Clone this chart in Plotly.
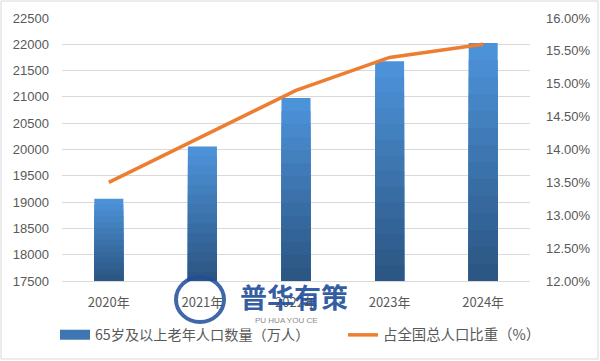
import plotly.graph_objects as go

years = ["2020年", "2021年", "2022年", "2023年", "2024年"]
elderly_pop = [19064, 20056, 20978, 21676, 22023]      # 万人
share_pct = [13.50, 14.20, 14.90, 15.40, 15.60]         # %

left_range = [17500, 22500]
right_range = [12.0, 16.0]
left_ticks = [17500, 18000, 18500, 19000, 19500, 20000, 20500, 21000, 21500, 22000, 22500]
right_ticks = [12.0, 12.5, 13.0, 13.5, 14.0, 14.5, 15.0, 15.5, 16.0]
right_labels = ["%.2f%%" % v for v in right_ticks]
left_labels = [str(v) for v in left_ticks]

bar_name = "65岁及以上老年人口数量（万人）"
line_name = "占全国总人口比重（%）"

FONT = "Noto Sans CJK SC, Liberation Sans, sans-serif"
NUMFONT = "Liberation Sans, Arial, sans-serif"
GREY = "#595959"

top_rgb = (76, 146, 216)
bot_rgb = (44, 86, 132)
N = 14

W, H = 600, 361
ML, MR, MT, MB = 62, 70, 18, 80
PW, PH = W - ML - MR, H - MT - MB


def px(x):
    return (x - ML) / PW


def py(y):
    return (H - MB - y) / PH


fig = go.Figure()
base = left_range[0]
for k in range(N):
    f = 1 - k / N
    t = k / (N - 1)
    c = tuple(round(top_rgb[i] + (bot_rgb[i] - top_rgb[i]) * t) for i in range(3))
    fig.add_trace(go.Bar(
        x=years,
        y=[base + (v - base) * f for v in elderly_pop],
        name=bar_name,
        marker=dict(color="rgb(%d,%d,%d)" % c, line=dict(width=0)),
        width=0.31,
        showlegend=False,
        hoverinfo="skip" if k else None,
    ))

# legend-only swatch for the bar series (wide rectangle like the original)
fig.add_trace(go.Scatter(
    x=[None], y=[None], name=bar_name, mode="lines",
    line=dict(color="rgb(62,118,178)", width=10), legend="legend",
))

fig.add_trace(go.Scatter(
    x=years, y=share_pct, name=line_name, mode="lines",
    line=dict(color="#ED7D31", width=3.5), yaxis="y2", legend="legend2",
))

fig.update_layout(
    width=W, height=H,
    margin=dict(l=ML, r=MR, t=MT, b=MB, autoexpand=False),
    paper_bgcolor="white", plot_bgcolor="white",
    barmode="overlay",
    font=dict(family=FONT, size=12, color=GREY),
    xaxis=dict(showgrid=False, showline=True, linecolor="#d9d9d9", ticks="",
               tickfont=dict(family=FONT, size=13, color=GREY), ticklabelstandoff=9,
               automargin=False),
    yaxis=dict(range=left_range, tickvals=left_ticks, ticktext=left_labels, showgrid=True,
               gridcolor="#d9d9d9", gridwidth=1, zeroline=False, automargin=False,
               tickfont=dict(family=NUMFONT, size=13, color=GREY), ticklabelstandoff=12),
    yaxis2=dict(range=right_range, tickvals=right_ticks, ticktext=right_labels,
                overlaying="y", side="right", showgrid=False, zeroline=False,
                automargin=False,
                tickfont=dict(family=NUMFONT, size=13, color=GREY), ticklabelstandoff=15),
    legend=dict(orientation="h", x=px(55), xanchor="left", y=py(335), yanchor="middle",
                font=dict(family=FONT, size=14.2, color=GREY), bgcolor="rgba(0,0,0,0)"),
    legend2=dict(orientation="h", x=px(343), xanchor="left", y=py(335), yanchor="middle",
                 font=dict(family=FONT, size=14.4, color=GREY), bgcolor="rgba(0,0,0,0)"),
    showlegend=True,
)

# outer chart border
fig.add_shape(type="rect", xref="paper", yref="paper",
              x0=px(1), x1=px(598), y0=py(359), y1=py(1),
              line=dict(color="#d9d9d9", width=1), fillcolor="rgba(0,0,0,0)", layer="below")

# watermark
fig.add_shape(type="circle", xref="paper", yref="paper",
              x0=px(176), x1=px(224), y0=py(322), y1=py(277),
              line=dict(color="rgba(31,78,154,0.85)", width=4), layer="above")
fig.add_annotation(text="<b>普华有策</b>", xref="paper", yref="paper",
                   x=px(294), y=py(296), showarrow=False, yanchor="middle",
                   font=dict(family=FONT, size=27, color="rgba(31,78,154,0.92)"))
fig.add_annotation(text="PU HUA YOU CE", xref="paper", yref="paper",
                   x=px(286), y=py(320), showarrow=False, yanchor="middle",
                   font=dict(family=NUMFONT, size=8, color="#8a8a8a"))

fig.write_html("out.html", post_script="document.body.style.margin='0';",
               config={"displayModeBar": False})
